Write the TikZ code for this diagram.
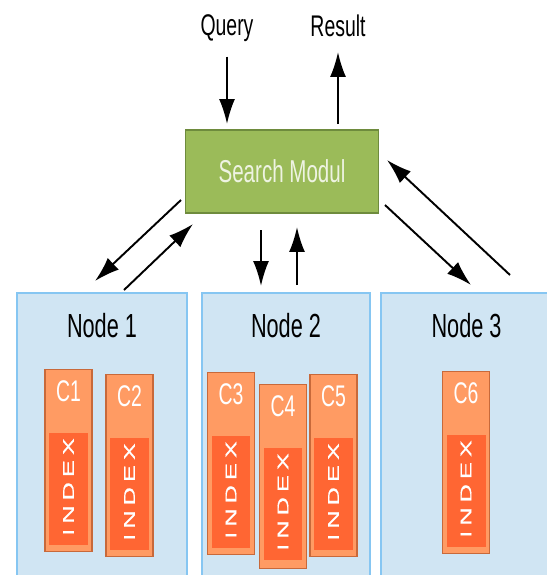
\documentclass[tikz,border=0pt]{standalone}
\usepackage{fontspec}
\setmainfont{Liberation Sans}[FakeStretch=0.65]
\newfontfamily\idxfont{Liberation Sans}[FakeStretch=1.6, LetterSpace=32, FakeBold=0.6]
\usetikzlibrary{arrows.meta, positioning}

\definecolor{modgreen}{HTML}{9BBB59}
\definecolor{modedge}{HTML}{6E8B3D}
\definecolor{modtext}{HTML}{EEF3E2}
\definecolor{hostblue}{HTML}{D0E5F3}
\definecolor{hostedge}{HTML}{86C6F2}
\definecolor{collight}{HTML}{FF9B63}
\definecolor{coledge}{HTML}{C8693A}
\definecolor{idxred}{HTML}{FF6633}

\tikzset{
    flow/.style={-{Latex[length=0.5cm,width=0.32cm]}, line width=1.1pt},
    host/.style={draw=hostedge, fill=hostblue, line width=0.8pt, minimum width=3.4cm, minimum height=5.8cm},
    coll/.style={draw=coledge, fill=collight, line width=0.8pt, minimum width=0.94cm, minimum height=3.64cm, anchor=north},
    idx/.style={fill=idxred, minimum width=0.78cm, minimum height=2.24cm, anchor=north, inner sep=0pt,
        text=white, font=\idxfont\fontsize{9pt}{10pt}\selectfont},
    collabel/.style={text=white, font=\fontsize{17pt}{19pt}\selectfont, inner sep=0pt},
    title/.style={font=\fontsize{19pt}{22pt}\selectfont, inner sep=0pt}
}

\begin{document}
\begin{tikzpicture}[x=0.02cm, y=-0.02cm]
        \clip (0,0) rectangle (547,575);

        \node[draw=modedge, fill=modgreen, line width=0.8pt, minimum width=3.86cm, minimum height=1.66cm,
            text=modtext, font=\fontsize{18pt}{20pt}\selectfont] (search) at (282,171.5) {Search Modul};
        \node[font=\fontsize{17pt}{20pt}\selectfont] (query) at (227,28) {Query};
        \node[font=\fontsize{17pt}{20pt}\selectfont] (result) at (338,26) {Result};

        \node[host] (n1) at (102,438) {};
        \node[host, minimum width=3.36cm] (n2) at (286,438) {};
        \node[host, minimum width=3.42cm] (n3) at (466.5,438) {};
        \node[title, below=0.42cm of n1.north] (t1) {Node 1};
        \node[title, below=0.42cm of n2.north] (t2) {Node 2};
        \node[title, below=0.42cm of n3.north] (t3) {Node 3};

        % columns with their index
        \node[coll] (c1) at (68.5,369) {};
        \node[coll] (c2) at (129.5,374) {};
        \node[coll] (c3) at (231,372) {};
        \node[coll, minimum height=3.68cm] (c4) at (283,384) {};
        \node[coll] (c5) at (333.5,374) {};
        \node[coll] (c6) at (466,371) {};
        \foreach \c in {c1,c2,c3,c4,c5,c6} {
            \node[idx, below=1.28cm of \c.north] (\c i) {\rotatebox{90}{INDEX\hspace{-0.3em}}};
        }
        \node[collabel, below=0.22cm of c1.north] {C1};
        \node[collabel, below=0.22cm of c2.north] {C2};
        \node[collabel, below=0.22cm of c3.north] {C3};
        \node[collabel, below=0.22cm of c4.north] {C4};
        \node[collabel, below=0.22cm of c5.north] {C5};
        \node[collabel, below=0.22cm of c6.north] {C6};

        % arrow ends
        \coordinate (l1a) at (181,200);
        \coordinate (l1b) at (95,281);
        \coordinate (l2a) at (124,290);
        \coordinate (l2b) at (193,224);
        \coordinate (m1a) at (261,230);
        \coordinate (m1b) at (261,286);
        \coordinate (m2a) at (297,285);
        \coordinate (m2b) at (297,227);
        \coordinate (r1a) at (385,205);
        \coordinate (r1b) at (471,285);
        \coordinate (r2a) at (510,275);
        \coordinate (r2b) at (387,160);

        \path[flow] (query.south) edge[shorten <=5pt, shorten >=3pt] (query.south |- search.north);
        \path[flow] (search.north -| result) edge[shorten <=3pt, shorten >=5pt] (result.south);
        \path[flow] (l1a) edge (l1b);
        \path[flow] (l2a) edge (l2b);
        \path[flow] (m1a) edge (m1b);
        \path[flow] (m2a) edge (m2b);
        \path[flow] (r1a) edge (r1b);
        \path[flow] (r2a) edge (r2b);
    \end{tikzpicture}
\end{document}
